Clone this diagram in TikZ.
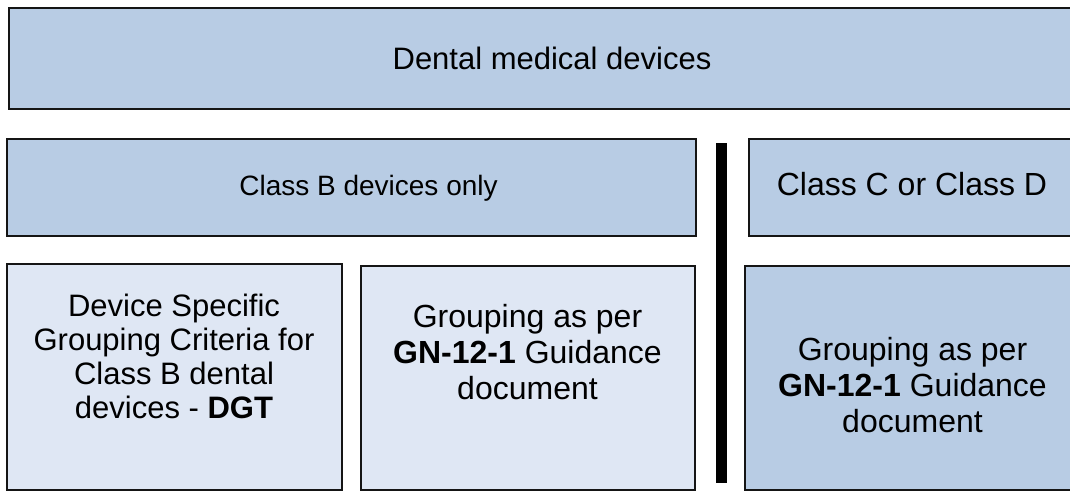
\documentclass[tikz,border=0pt]{standalone}
\usepackage{fontspec}
\setmainfont{Liberation Sans}
\definecolor{darkfill}{HTML}{B8CCE4}
\definecolor{lightfill}{HTML}{DFE7F4}
\definecolor{edge}{HTML}{151515}
\tikzset{
  box/.style={draw=edge, line width=2.6pt, rectangle, inner sep=0pt},
  darkbox/.style={box, fill=darkfill},
  lightbox/.style={box, fill=lightfill},
  txt/.style={align=center, inner sep=0pt, text=black},
  bar/.style={fill=black, draw=none, rectangle, inner sep=0pt}
}
\begin{document}
\begin{tikzpicture}[x=1pt, y=-1pt]
\useasboundingbox (0,0) rectangle (1070,491);
\clip (0,0) rectangle (1070,491);
% boxes
\node[darkbox, minimum width=1086pt, minimum height=101pt] (top) at (552,58.5) {};
\node[darkbox, minimum width=689pt, minimum height=97pt] (classb) at (351.5,187.5) {};
\node[darkbox, minimum width=331pt, minimum height=97pt] (classc) at (914.5,187.5) {};
\node[lightbox, minimum width=335pt, minimum height=226pt] (dgt) at (174.5,377) {};
\node[lightbox, minimum width=334pt, minimum height=224pt] (gna) at (528,378) {};
\node[darkbox, minimum width=335pt, minimum height=224pt] (gnb) at (912.5,378) {};
\node[bar, minimum width=10.5pt, minimum height=340pt] (divider) at (721.5,313) {};
% texts
\node[txt, font=\fontsize{31}{34}\selectfont, anchor=base] (toptxt) at (552,69.5) {Dental medical devices};
\node[txt, font=\fontsize{28}{34}\selectfont, anchor=base] (classbtxt) at (368.5,195) {Class B devices only};
\node[txt, font=\fontsize{32}{34}\selectfont, anchor=base] (classctxt) at (912,195) {Class C or Class D};
\node[txt, font=\fontsize{31}{34}\selectfont, anchor=north] (dgttxt) at (174,294) {Device Specific\\Grouping Criteria for\\Class B dental\\devices - \textbf{DGT}};
\node[txt, font=\fontsize{32}{36}\selectfont, anchor=north] (gnatxt) at (527.5,304.5) {Grouping as per\\\textbf{GN-12-1} Guidance\\document};
\node[txt, font=\fontsize{32}{36}\selectfont, anchor=north] (gnbtxt) at (912.5,337.5) {Grouping as per\\\textbf{GN-12-1} Guidance\\document};
\end{tikzpicture}
\end{document}
